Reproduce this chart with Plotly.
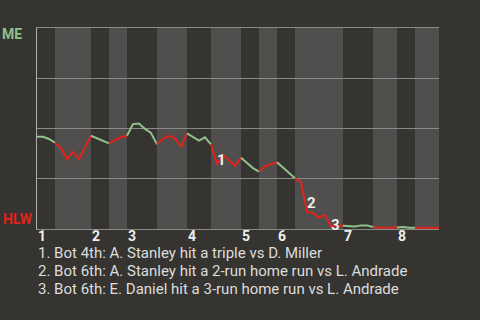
import plotly.graph_objects as go

# plays per half-inning (top1, bot1, top2, bot2, ...)
half_plays = [3, 6, 3, 3, 5, 5, 4, 5, 3, 3, 3, 8, 5, 4, 3, 4]
# ME win probability after each play (play index 0..67)
win_prob = [0.459, 0.459, 0.448, 0.429, 0.403, 0.348, 0.385, 0.347, 0.405, 0.464,
            0.451, 0.438, 0.426, 0.443, 0.455, 0.464, 0.522, 0.525, 0.498, 0.478,
            0.421, 0.448, 0.463, 0.451, 0.409, 0.476, 0.459, 0.440, 0.456, 0.421,
            0.322, 0.368, 0.343, 0.315, 0.355, 0.327, 0.303, 0.285, 0.311, 0.322,
            0.332, 0.305, 0.274, 0.252, 0.234, 0.085, 0.080, 0.057, 0.070, 0.015,
            0.015, 0.016, 0.016, 0.013, 0.018, 0.018, 0.010, 0.006, 0.006, 0.006,
            0.007, 0.010, 0.006, 0.006, 0.006, 0.006, 0.006, 0.006]
event_idx = [30, 45, 49]
event_labels = ["1", "2", "3"]
event_texts = ["1. Bot 4th: A. Stanley hit a triple vs D. Miller",
               "2. Bot 6th: A. Stanley hit a 2-run home run vs L. Andrade",
               "3. Bot 6th: E. Daniel hit a 3-run home run vs L. Andrade"]
inning_labels = ["1", "2", "3", "4", "5", "6", "7", "8"]
team_top = "ME"
team_bottom = "HLW"

# label placement offsets (pixels) for event markers
label_yshift = [4, 9, 1]

BG = "#353430"
BAND = "#504f4d"
GREEN = "#8fc18a"
RED = "#e0231b"
GRID = "#8a8a88"

fig = go.Figure()

bounds = [0]
for n in half_plays:
    bounds.append(bounds[-1] + n)
total = bounds[-1]

shapes = []
for h in range(len(half_plays)):
    if h % 2 == 1:
        shapes.append(dict(type="rect", xref="x", yref="y", x0=bounds[h], x1=bounds[h + 1],
                           y0=0, y1=1, fillcolor=BAND, line=dict(width=0), layer="below"))

xs = list(range(len(win_prob)))
for h in range(len(half_plays)):
    a, b = bounds[h], bounds[h + 1]
    fig.add_trace(go.Scatter(x=xs[a:b + 1], y=win_prob[a:b + 1], mode="lines",
                             line=dict(color=GREEN if h % 2 == 0 else RED, width=2),
                             hoverinfo="skip", showlegend=False))

annotations = []
for i, lab, ys in zip(event_idx, event_labels, label_yshift):
    annotations.append(dict(x=i, y=win_prob[i], xref="x", yref="y", text=lab, showarrow=False,
                            xanchor="center", yanchor="middle", xshift=4, yshift=ys,
                            font=dict(family="Roboto", size=15, color="#eeeeee", weight="bold")))
for k, lab in enumerate(inning_labels):
    annotations.append(dict(x=bounds[2 * k], y=0, xref="x", yref="y", text=lab, showarrow=False,
                            xanchor="left", yanchor="top", xshift=0, yshift=2, borderpad=0,
                            font=dict(family="Roboto", size=14, color="#eeeeee", weight="bold")))
plot_left, plot_right = 37, 439
plot_top, plot_bot = 28, 229
for k, t in enumerate(event_texts):
    py = 252.5 + 18 * k
    annotations.append(dict(x=(37 - plot_left) / (plot_right - plot_left),
                            y=(plot_bot - py) / (plot_bot - plot_top),
                            xref="paper", yref="paper", text=t, borderpad=0,
                            showarrow=False, xanchor="left", yanchor="middle",
                            font=dict(family="Roboto", size=15, color="#dddddd")))

annotations.append(dict(x=0, y=1, xref="paper", yref="y", text=team_top, showarrow=False,
                        xanchor="right", yanchor="middle", xshift=-13, yshift=-6,
                        font=dict(family="Roboto", size=14, color=GREEN, weight="bold")))
annotations.append(dict(x=0, y=0, xref="paper", yref="y", text=team_bottom, showarrow=False,
                        xanchor="right", yanchor="middle", xshift=-2, yshift=10,
                        font=dict(family="Roboto", size=14, color=RED, weight="bold")))

fig.update_layout(
    width=480, height=320,
    margin=dict(l=37, r=41, t=28, b=91),
    paper_bgcolor=BG, plot_bgcolor=BG,
    shapes=shapes, annotations=annotations,
    xaxis=dict(range=[0, total], showgrid=False, zeroline=False, showticklabels=False,
               showline=True, linecolor=GRID, linewidth=1, mirror=True, ticks=""),
    yaxis=dict(range=[0, 1], tickvals=[0.25, 0.5, 0.75], showticklabels=False,
               gridcolor=GRID, gridwidth=1, zeroline=False,
               showline=True, linecolor="#b0b0b0", linewidth=1, ticks=""),
    font=dict(family="Roboto"),
)

fig.write_html("out.html")
